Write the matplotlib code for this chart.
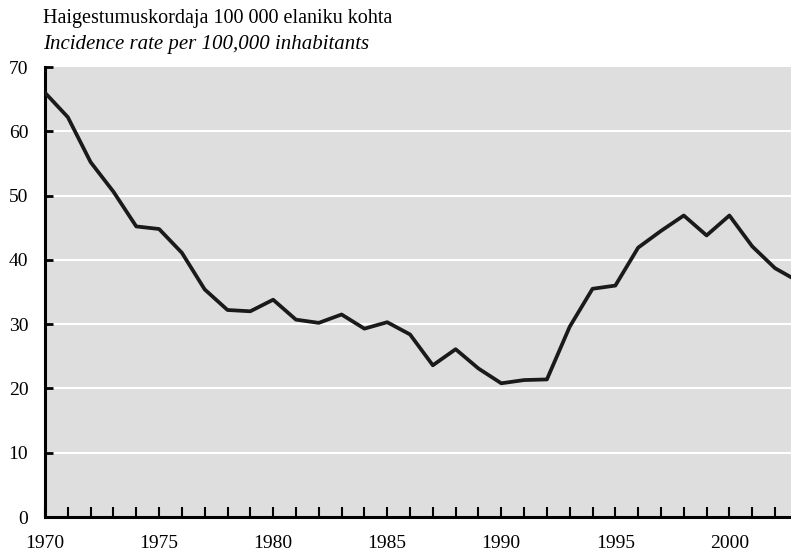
import matplotlib.pyplot as plt
import numpy as np

##data
years = np.arange(1970, 2004)
rate = [66.0, 62.2, 55.2, 50.6, 45.2, 44.8, 41.1, 35.4, 32.2, 32.0,
        33.8, 30.7, 30.2, 31.5, 29.3, 30.3, 28.4, 23.6, 26.1, 23.1,
        20.8, 21.3, 21.4, 29.6, 35.5, 36.0, 41.9, 44.5, 46.9, 43.8,
        46.9, 42.1, 38.7, 36.7]
title_et = 'Haigestumuskordaja 100 000 elaniku kohta'
title_en = 'Incidence rate per 100,000 inhabitants'

plt.rcParams['font.family'] = ['Liberation Serif', 'DejaVu Serif']

fig = plt.figure(figsize=(7.91, 5.54), dpi=100)
ax = fig.add_axes([45/791, 37/554, 1 - 45/791, 450/554])
ax.set_facecolor('#dedede')

for g in range(10, 70, 10):
    ax.axhline(g, color='white', lw=1.5, zorder=1)

ax.plot(years, rate, color='#1a1a1a', lw=2.7, zorder=3, clip_on=True)

ax.set_xlim(1970, 2002.7)
ax.set_ylim(0, 70)
ax.set_yticks(range(0, 80, 10))
ax.set_xticks(range(1970, 2005, 5))
ax.set_xticks(range(1970, 2003), minor=True)

for s in ['top', 'right']:
    ax.spines[s].set_visible(False)
for s in ['left', 'bottom']:
    ax.spines[s].set_linewidth(2.2)
    ax.spines[s].set_color('black')

ax.tick_params(axis='y', direction='in', length=6, width=2, labelsize=14, pad=12)
ax.tick_params(axis='x', which='both', direction='in', length=7, width=1.5, labelsize=14, pad=13)

fig.text(43/791, 1 - 18/554, title_et, fontsize=14.5, va='center', ha='left')
fig.text(43/791, 1 - 44/554, title_en, fontsize=15, style='italic', va='center', ha='left')

fig.savefig('out.png', dpi=100)
